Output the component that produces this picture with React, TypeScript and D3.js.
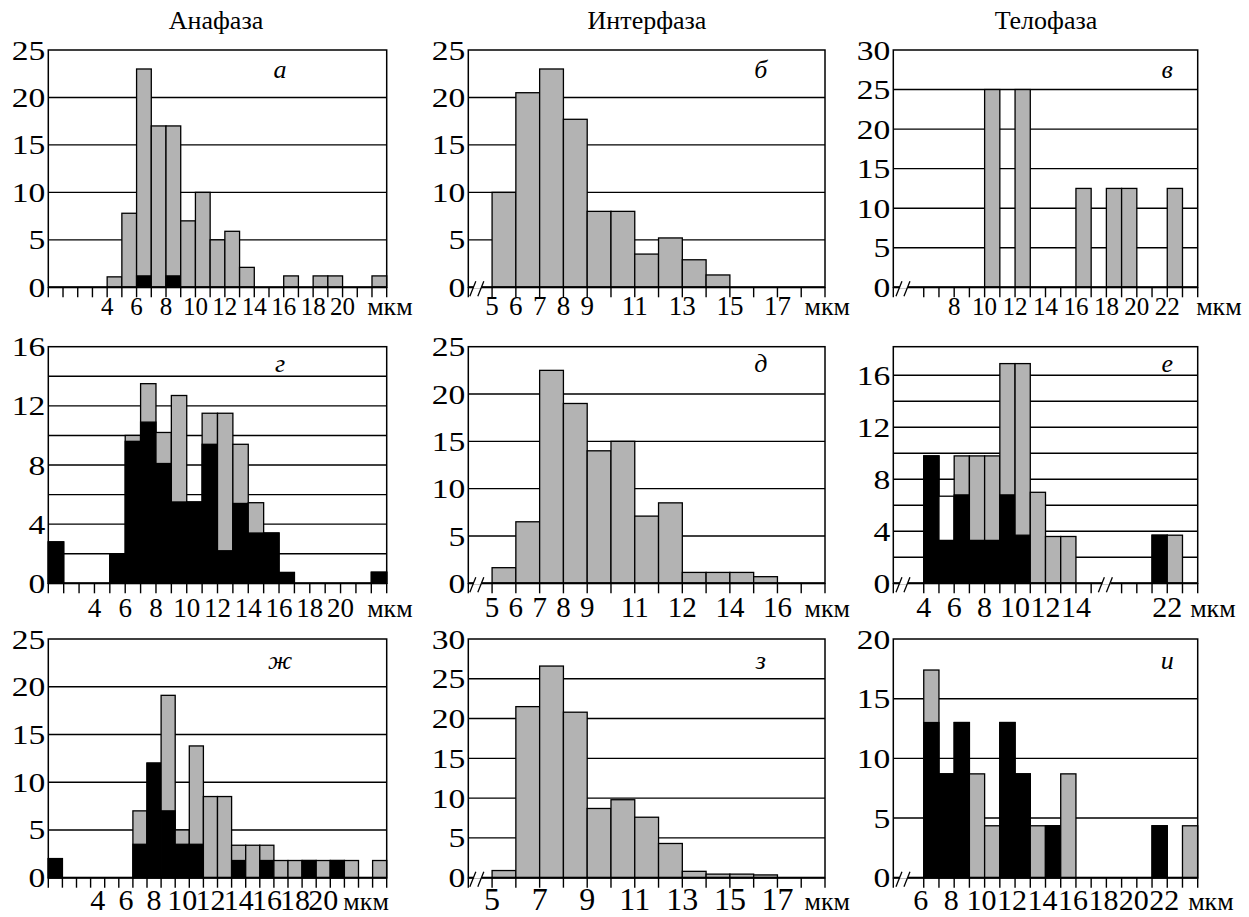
import React from 'react';
import * as d3 from 'd3';

// ---- data: bin start (мкм), bar height (%), black part (%) ----

// а — Анафаза
const binsA = [4, 5, 6, 7, 8, 9, 10, 11, 12, 13, 16, 18, 19, 22];
const totalA = [1.1, 7.8, 23, 17, 17, 7, 10, 5, 5.9, 2.1, 1.2, 1.2, 1.2, 1.2];
const blackA = [0, 0, 1.2, 0, 1.2, 0, 0, 0, 0, 0, 0, 0, 0, 0];

// б — Интерфаза
const binsB = [5, 6, 7, 8, 9, 10, 11, 12, 13, 14];
const totalB = [10, 20.5, 23, 17.7, 8, 8, 3.5, 5.2, 2.9, 1.3];

// в — Телофаза
const binsV = [10, 12, 16, 18, 19, 22];
const totalV = [25, 25, 12.5, 12.5, 12.5, 12.5];

// г — Анафаза
const binsG = [1, 5, 6, 7, 8, 9, 10, 11, 12, 13, 14, 15, 16, 22];
const totalG = [2.8, 2.0, 10, 13.5, 10.2, 12.7, 5.5, 11.5, 11.5, 9.4, 5.45, 3.4, 0.73, 0.75];
const blackG = [2.8, 2.0, 9.6, 10.9, 8.1, 5.5, 5.5, 9.4, 2.2, 5.4, 3.4, 3.4, 0.73, 0.75];

// д — Интерфаза
const binsD = [5, 6, 7, 8, 9, 10, 11, 12, 13, 14, 15, 16];
const totalD = [1.65, 6.5, 22.5, 19, 14, 15, 7.1, 8.5, 1.15, 1.15, 1.15, 0.7];

// е — Телофаза
const binsE = [4, 5, 6, 7, 8, 9, 10, 11, 12, 13, 21, 22];
const totalE = [9.8, 6.7, 9.8, 9.8, 9.8, 16.9, 16.9, 7.0, 3.6, 3.6, 3.7, 3.7];
const blackE = [9.8, 3.3, 6.8, 3.3, 3.3, 6.8, 3.7, 0, 0, 0, 3.7, 0];
const hollowE = [5]; // upper part left white

// ж — Анафаза
const binsZh = [0, 6, 7, 8, 9, 10, 11, 12, 13, 14, 15, 16, 17, 18, 19, 20, 21, 23];
const totalZh = [2.0, 7.0, 12.0, 19.1, 5.0, 13.8, 8.5, 8.5, 3.4, 3.4, 3.4, 1.8, 1.8, 1.8, 1.8, 1.8, 1.8, 1.8];
const blackZh = [2.0, 3.5, 12.0, 7.0, 3.5, 3.5, 0, 0, 1.8, 0, 1.8, 0, 0, 1.8, 0, 1.8, 0, 0];

// з — Интерфаза
const binsZ = [5, 6, 7, 8, 9, 10, 11, 12, 13, 14, 15, 16];
const totalZ = [0.9, 21.5, 26.6, 20.8, 8.7, 9.8, 7.6, 4.3, 0.8, 0.45, 0.45, 0.35];

// и — Телофаза
const binsI = [6, 7, 8, 9, 10, 11, 12, 13, 14, 15, 21, 23];
const totalI = [17.4, 8.7, 13.0, 8.7, 4.35, 13.0, 8.7, 4.35, 4.35, 8.7, 4.35, 4.35];
const blackI = [13.0, 8.7, 13.0, 0, 0, 13.0, 8.7, 0, 4.35, 0, 4.35, 0];

// tick labels
const evenLabels = [4, 6, 8, 10, 12, 14, 16, 18, 20];
const interLabelsB = [5, 6, 7, 8, 9, 11, 13, 15, 17];
const interTextD = ['5', '6', '7', '8', '9', '11', '12', '14', '16'];
const interLabelsZ = [5, 7, 9, 11, 13, 15, 17];
const teloLabelsV = [8, 10, 12, 14, 16, 18, 20, 22];
const teloLabelsE = [4, 6, 8, 10, 12, 14, 22];
const teloLabelsI = [6, 8, 10, 12, 14, 16, 18, 20, 22];

const titles = ['Анафаза', 'Интерфаза', 'Телофаза'];

const GRAY = '#b3b3b3';
const FONT = 'Liberation Serif, Times New Roman, serif';
const COLS = [[48.3, 386.7], [468.3, 825], [893.3, 1197.7]];
const ROWS = [[50, 287.3], [346.7, 583.3], [639, 877.7]];
const TITLE_X = [216, 647, 1046];

const zeros = (n) => new Array(n).fill(0);
const upTo = (a, b) => d3.range(a, b + 1);

const panels = [
  {
    letter: 'а', col: 0, row: 0, xDomain: [0, 23], xSlots: [0, 23], yMax: 25,
    grid: [5, 10, 15, 20], yTicks: [0, 5, 10, 15, 20, 25],
    xTicks: upTo(0, 23), labels: evenLabels, fs: 25, unitDx: 26,
    bins: binsA, total: totalA, black: blackA,
  },
  {
    letter: 'б', col: 1, row: 0, xDomain: [4, 19], xSlots: [0, 15], yMax: 25,
    grid: [5, 10, 15, 20], yTicks: [0, 5, 10, 15, 20, 25],
    xTicks: upTo(4, 19), labels: interLabelsB, fs: 27, unitDx: 25, breakAt: [4.4],
    bins: binsB, total: totalB, black: zeros(binsB.length),
  },
  {
    letter: 'в', col: 2, row: 0, xDomain: [4, 24], xSlots: [0, 20], yMax: 30,
    grid: [5, 10, 15, 20, 25], yTicks: [0, 5, 10, 15, 20, 25, 30],
    xTicks: [4, ...upTo(6, 24)], labels: teloLabelsV, fs: 25, unitDx: 44, breakAt: [4.7],
    bins: binsV, total: totalV, black: zeros(binsV.length),
  },
  {
    letter: 'г', col: 0, row: 1, xDomain: [1, 23], xSlots: [0, 22], yMax: 16,
    grid: [2, 4, 6, 8, 10, 12, 14], yTicks: [0, 4, 8, 12, 16],
    xTicks: upTo(1, 23), labels: evenLabels, fs: 27, unitDx: 26,
    bins: binsG, total: totalG, black: blackG,
  },
  {
    letter: 'д', col: 1, row: 1, xDomain: [4, 19], xSlots: [0, 15], yMax: 25,
    grid: [5, 10, 15, 20], yTicks: [0, 5, 10, 15, 20, 25],
    xTicks: upTo(4, 19), labels: interLabelsB, text: interTextD, fs: 29, unitDx: 25, breakAt: [4.4],
    bins: binsD, total: totalD, black: zeros(binsD.length),
  },
  {
    letter: 'е', col: 2, row: 1, xDomain: [2, 15, 19, 24], xSlots: [0, 13, 15, 20], yMax: 18.2,
    grid: [2, 4, 6, 8, 10, 12, 14, 16], yTicks: [0, 4, 8, 12, 16],
    xTicks: [2, ...upTo(4, 15), ...upTo(19, 24)], labels: teloLabelsE, fs: 30, unitDx: 38,
    breakAt: [2.7, 17], letterBox: true,
    bins: binsE, total: totalE, black: blackE, hollow: hollowE,
  },
  {
    letter: 'ж', col: 0, row: 2, xDomain: [0, 24], xSlots: [0, 24], yMax: 25,
    grid: [5, 10, 15, 20], yTicks: [0, 5, 10, 15, 20, 25],
    xTicks: upTo(0, 24), labels: evenLabels, fs: 30, labelDx: -7, unitGap: 20,
    bins: binsZh, total: totalZh, black: blackZh,
  },
  {
    letter: 'з', col: 1, row: 2, xDomain: [4, 19], xSlots: [0, 15], yMax: 30,
    grid: [5, 10, 15, 20, 25], yTicks: [0, 5, 10, 15, 20, 25, 30],
    xTicks: upTo(4, 19), labels: interLabelsZ, fs: 32, unitDx: 25, breakAt: [4.4],
    bins: binsZ, total: totalZ, black: zeros(binsZ.length),
  },
  {
    letter: 'и', col: 2, row: 2, xDomain: [4, 24], xSlots: [0, 20], yMax: 20,
    grid: [5, 10, 15], yTicks: [0, 5, 10, 15, 20],
    xTicks: [4, ...upTo(6, 24)], labels: teloLabelsI, fs: 30, labelDx: -3, unitDx: 36, breakAt: [4.7],
    bins: binsI, total: totalI, black: blackI,
  },
];

const LETTER_X = [0.685, 0.82, 0.9];
const LETTER_DY = [28, 25, 30];
const LABEL_DY = [28, 34, 32];

function Histogram({ p }) {
  const [left, right] = COLS[p.col];
  const [top, base] = ROWS[p.row];
  const lastSlot = p.xSlots[p.xSlots.length - 1];
  const x = d3
    .scaleLinear()
    .domain(p.xDomain)
    .range(p.xSlots.map((s) => left + (s * (right - left)) / lastSlot));
  const y = d3.scaleLinear().domain([0, p.yMax]).range([base, top]);
  const hollow = p.hollow || [];
  const lx = left + (right - left) * LETTER_X[p.col];
  const ly = top + LETTER_DY[p.row];
  const labelY = base + LABEL_DY[p.row];
  const lastLabel = p.labels[p.labels.length - 1];
  const unitStart = p.unitGap != null;

  return (
    <g>
      {p.grid.map((g) => (
        <line key={g} x1={left} x2={right} y1={y(g)} y2={y(g)} stroke="#000" strokeWidth={1.4} />
      ))}
      {p.bins.map((b, i) => (
        <g key={b}>
          <rect
            x={x(b)}
            y={y(p.total[i])}
            width={x(b + 1) - x(b)}
            height={base - y(p.total[i])}
            fill={hollow.includes(b) ? '#fff' : GRAY}
            stroke="#000"
            strokeWidth={1.3}
          />
          {p.black[i] > 0 && (
            <rect
              x={x(b)}
              y={y(p.black[i])}
              width={x(b + 1) - x(b)}
              height={base - y(p.black[i])}
              fill="#000"
              stroke="#000"
              strokeWidth={1.3}
            />
          )}
        </g>
      ))}
      <rect x={left} y={top} width={right - left} height={base - top} fill="none" stroke="#000" strokeWidth={1.5} />
      <line x1={left} x2={right} y1={base} y2={base} stroke="#000" strokeWidth={2} />
      {p.xTicks.map((t) => (
        <line key={t} x1={x(t)} x2={x(t)} y1={base} y2={base + 10} stroke="#000" strokeWidth={1.4} />
      ))}
      {(p.breakAt || []).map((v) => {
        const cx = x(v);
        return (
          <g key={v} stroke="#000" strokeWidth={1.3}>
            <line x1={cx - 4} x2={cx + 4} y1={base - 0.5} y2={base - 0.5} stroke="#fff" strokeWidth={3} />
            <line x1={cx - 8} x2={cx - 2} y1={base + 9} y2={base - 6} />
            <line x1={cx} x2={cx + 6} y1={base + 9} y2={base - 6} />
          </g>
        );
      })}
      {p.yTicks.map((t) => (
        <text
          key={t}
          transform={`translate(${left - 3},${y(t)}) scale(1.2,1)`}
          dy="0.34em"
          textAnchor="end"
          fontSize={28}
          fontFamily={FONT}
        >
          {t}
        </text>
      ))}
      {p.labels.map((v, i) => (
        <text
          key={v}
          x={x(v) + (p.labelDx || 0)}
          y={labelY}
          textAnchor="middle"
          fontSize={p.fs}
          fontFamily={FONT}
        >
          {p.text ? p.text[i] : v}
        </text>
      ))}
      <text
        x={unitStart ? x(lastLabel) + (p.labelDx || 0) + p.unitGap : right + p.unitDx}
        y={labelY}
        textAnchor={unitStart ? 'start' : 'end'}
        fontSize={26}
        fontFamily={FONT}
      >
        мкм
      </text>
      {p.letterBox && <rect x={lx - 11} y={ly - 14} width={22} height={16} fill="#fff" />}
      <text x={lx} y={ly} textAnchor="middle" fontSize={26} fontStyle="italic" fontFamily={FONT}>
        {p.letter}
      </text>
    </g>
  );
}

export default function App() {
  return (
    <svg
      width={1249}
      height={917}
      style={{ position: 'absolute', left: 0, top: 0, background: '#fff' }}
    >
      {titles.map((t, i) => (
        <text key={t} x={TITLE_X[i]} y={29} textAnchor="middle" fontSize={26} fontFamily={FONT}>
          {t}
        </text>
      ))}
      {panels.map((p) => (
        <Histogram key={p.letter} p={p} />
      ))}
    </svg>
  );
}
